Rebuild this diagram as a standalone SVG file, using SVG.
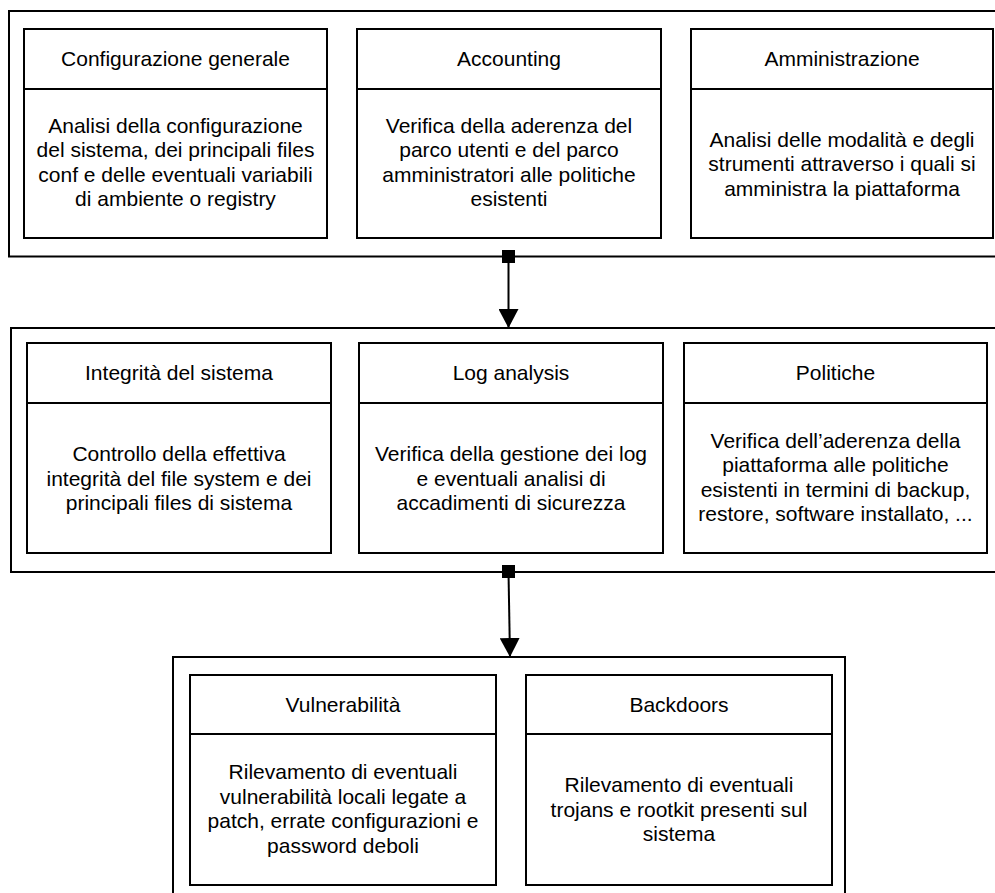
<svg xmlns="http://www.w3.org/2000/svg" width="995" height="893" viewBox="0 0 995 893">
<style>
.frame{fill:none;stroke:#000;stroke-width:2}
.box{fill:#fff;stroke:#000;stroke-width:2}
.t{font-family:"Liberation Sans",Arial,sans-serif;font-size:21px;fill:#000;text-anchor:middle}
.conn{stroke:#000;stroke-width:2;fill:none}
</style>
<defs>
<marker id="arr" markerWidth="20" markerHeight="20" refX="19" refY="10" orient="auto" markerUnits="userSpaceOnUse">
<path d="M0,0 L19,10 L0,20 Z" fill="#000"/>
</marker>
</defs>
<rect width="995" height="893" fill="#fff"/>

<g id="group1">
<path class="frame" d="M1000,11 H9 V256.5 H1000"/>
</g>
<g id="group2">
<path class="frame" d="M1000,328 H11 V572 H1000"/>
</g>
<g id="group3">
<path class="frame" d="M173,900 V657 H845 V900"/>
</g>

<g id="configurazione">
<rect class="box" x="24" y="29" width="303" height="209"/>
<line class="conn" x1="24" y1="89" x2="327" y2="89"/>
<text class="t" x="175.5" y="66">Configurazione generale</text>
<text class="t" x="175.5" y="132.5">Analisi della configurazione<tspan x="175.5" dy="24.5">del sistema, dei principali files</tspan><tspan x="175.5" dy="24.5">conf e delle eventuali variabili</tspan><tspan x="175.5" dy="24.5">di ambiente o registry</tspan></text>
</g>

<g id="accounting">
<rect class="box" x="357" y="29" width="304" height="209"/>
<line class="conn" x1="357" y1="89" x2="661" y2="89"/>
<text class="t" x="509" y="66">Accounting</text>
<text class="t" x="509" y="132.5">Verifica della aderenza del<tspan x="509" dy="24.5">parco utenti e del parco</tspan><tspan x="509" dy="24.5">amministratori alle politiche</tspan><tspan x="509" dy="24.5">esistenti</tspan></text>
</g>

<g id="amministrazione">
<rect class="box" x="691" y="29" width="302" height="209"/>
<line class="conn" x1="691" y1="89" x2="993" y2="89"/>
<text class="t" x="842" y="66">Amministrazione</text>
<text class="t" x="842" y="146.5">Analisi delle modalità e degli<tspan x="842" dy="24.5">strumenti attraverso i quali si</tspan><tspan x="842" dy="24.5">amministra la piattaforma</tspan></text>
</g>

<g id="integrita">
<rect class="box" x="27" y="343" width="304" height="210"/>
<line class="conn" x1="27" y1="403" x2="331" y2="403"/>
<text class="t" x="179" y="380">Integrità del sistema</text>
<text class="t" x="179" y="461">Controllo della effettiva<tspan x="179" dy="24.5">integrità del file system e dei</tspan><tspan x="179" dy="24.5">principali files di sistema</tspan></text>
</g>

<g id="loganalysis">
<rect class="box" x="359" y="343" width="304" height="210"/>
<line class="conn" x1="359" y1="403" x2="663" y2="403"/>
<text class="t" x="511" y="380">Log analysis</text>
<text class="t" x="511" y="461">Verifica della gestione dei log<tspan x="511" dy="24.5">e eventuali analisi di</tspan><tspan x="511" dy="24.5">accadimenti di sicurezza</tspan></text>
</g>

<g id="politiche">
<rect class="box" x="684" y="343" width="303" height="210"/>
<line class="conn" x1="684" y1="403" x2="987" y2="403"/>
<text class="t" x="835.5" y="380">Politiche</text>
<text class="t" x="835.5" y="447.5">Verifica dell’aderenza della<tspan x="835.5" dy="24.5">piattaforma alle politiche</tspan><tspan x="835.5" dy="24.5">esistenti in termini di backup,</tspan><tspan x="835.5" dy="24.5">restore, software installato, ...</tspan></text>
</g>

<g id="vulnerabilita">
<rect class="box" x="190" y="675" width="306" height="210"/>
<line class="conn" x1="190" y1="734" x2="496" y2="734"/>
<text class="t" x="343" y="711.5">Vulnerabilità</text>
<text class="t" x="343" y="779">Rilevamento di eventuali<tspan x="343" dy="24.5">vulnerabilità locali legate a</tspan><tspan x="343" dy="24.5">patch, errate configurazioni e</tspan><tspan x="343" dy="24.5">password deboli</tspan></text>
</g>

<g id="backdoors">
<rect class="box" x="526" y="675" width="306" height="210"/>
<line class="conn" x1="526" y1="734" x2="832" y2="734"/>
<text class="t" x="679" y="711.5">Backdoors</text>
<text class="t" x="679" y="792">Rilevamento di eventuali<tspan x="679" dy="24.5">trojans e rootkit presenti sul</tspan><tspan x="679" dy="24.5">sistema</tspan></text>
</g>

<g id="connectors">
<rect x="502" y="250" width="13" height="13" fill="#000"/>
<line class="conn" x1="508.5" y1="256" x2="508.5" y2="328" marker-end="url(#arr)"/>
<rect x="502" y="565" width="13" height="13" fill="#000"/>
<line class="conn" x1="508.5" y1="572" x2="510" y2="657" marker-end="url(#arr)"/>
</g>
</svg>
